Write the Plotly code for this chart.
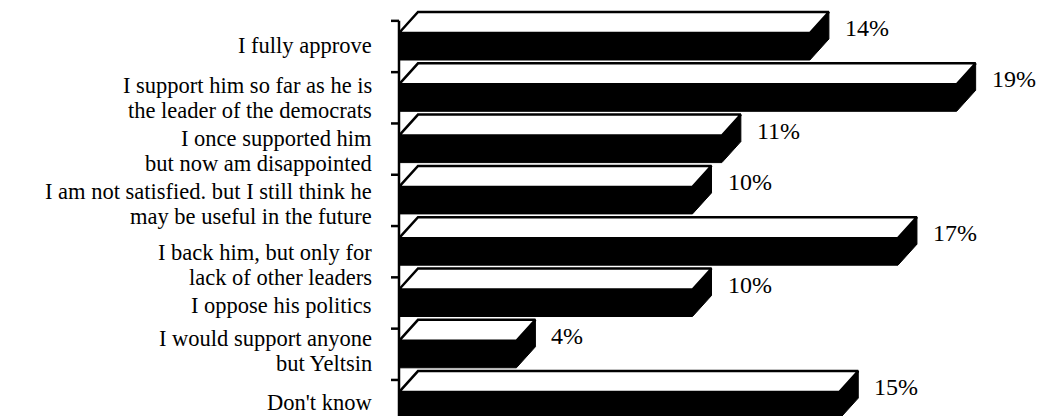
import plotly.graph_objects as go

# ---- data ----
categories = [
    "I fully approve",
    "I support him so far as he is<br>the leader of the democrats",
    "I once supported him<br>but now am disappointed",
    "I am not satisfied. but I still think he<br>may be useful in the future",
    "I back him, but only for<br>lack of other leaders",
    "I oppose his politics",
    "I would support anyone<br>but Yeltsin",
    "Don't know",
]
values = [14, 19, 11, 10, 17, 10, 4, 15]
value_labels = ["14%", "19%", "11%", "10%", "17%", "10%", "4%", "15%"]

# ---- layout constants (pixels) ----
W, HGT = 1039, 416
PX_X = 29.35          # pixels per percent
PX_Y = 51.3           # pixels per category
ZERO_PX = 399         # pixel of x = 0
LEFT_PX = 389         # left edge of plot area
FIRST_CENTER_PX = 46.5

DX = 19 / PX_X        # depth (x)
DY = 21 / PX_Y        # depth (y)
HH = 13.5 / PX_Y      # half height of front face
TICK = 8 / PX_X

label_dy = [-1, 0, 2, 4, 13, 2, -3, -3]   # small vertical nudges of left labels (px, down)
LINE_SP = 25
FONT = "Liberation Serif, Times New Roman, serif"

fig = go.Figure()

# axis line and ticks
ax_x, ax_y = [0, 0, None], [-0.5, 7.4, None]
for k in range(len(categories)):
    b = k - 0.5
    ax_x += [-TICK, 0, None]
    ax_y += [b, b, None]
fig.add_trace(go.Scatter(x=ax_x, y=ax_y, mode="lines",
                         line=dict(color="black", width=2.5),
                         hoverinfo="skip", showlegend=False))

for k, v in enumerate(values):
    top = k - HH
    bot = k + HH
    # black body: front + side
    hx = [0, 0, DX, v + DX, v + DX, v, 0]
    hy = [bot, top, top - DY, top - DY, bot - DY, bot, bot]
    fig.add_trace(go.Scatter(x=hx, y=hy, mode="lines", fill="toself",
                             fillcolor="black", line=dict(color="black", width=1),
                             hoverinfo="skip", showlegend=False))
    # white top face
    tx = [0, v, v + DX, DX, 0]
    ty = [top, top, top - DY, top - DY, top]
    fig.add_trace(go.Scatter(x=tx, y=ty, mode="lines", fill="toself",
                             fillcolor="white", line=dict(color="black", width=2.5),
                             hoverinfo="skip", showlegend=False))

annotations = []
for k, cat in enumerate(categories):
    lines = cat.split("<br>")
    n = len(lines)
    for j, ln in enumerate(lines):
        off = (j - (n - 1) / 2) * LINE_SP + label_dy[k]
        annotations.append(dict(
            x=0, y=k, xref="x", yref="y", text=ln, showarrow=False,
            xanchor="right", yanchor="middle", xshift=-25, yshift=-off,
            font=dict(family=FONT, size=22.5, color="black")))

for k, (v, lab) in enumerate(zip(values, value_labels)):
    annotations.append(dict(
        x=v, y=k - HH, xref="x", yref="y", text=lab, showarrow=False,
        xanchor="left", yanchor="middle", xshift=19 + 14, yshift=5,
        font=dict(family=FONT, size=24, color="black")))

plot_w = W - LEFT_PX
x0 = -(ZERO_PX - LEFT_PX) / PX_X
x1 = x0 + plot_w / PX_X
y_top = -FIRST_CENTER_PX / PX_Y
y_bot = (HGT - FIRST_CENTER_PX) / PX_Y

fig.update_layout(
    width=W, height=HGT,
    margin=dict(l=LEFT_PX, r=0, t=0, b=0, pad=0),
    paper_bgcolor="white", plot_bgcolor="white",
    showlegend=False,
    xaxis=dict(range=[x0, x1], visible=False, fixedrange=True),
    yaxis=dict(range=[y_bot, y_top], visible=False, fixedrange=True),
    annotations=annotations,
)

fig.write_html("out.html")
